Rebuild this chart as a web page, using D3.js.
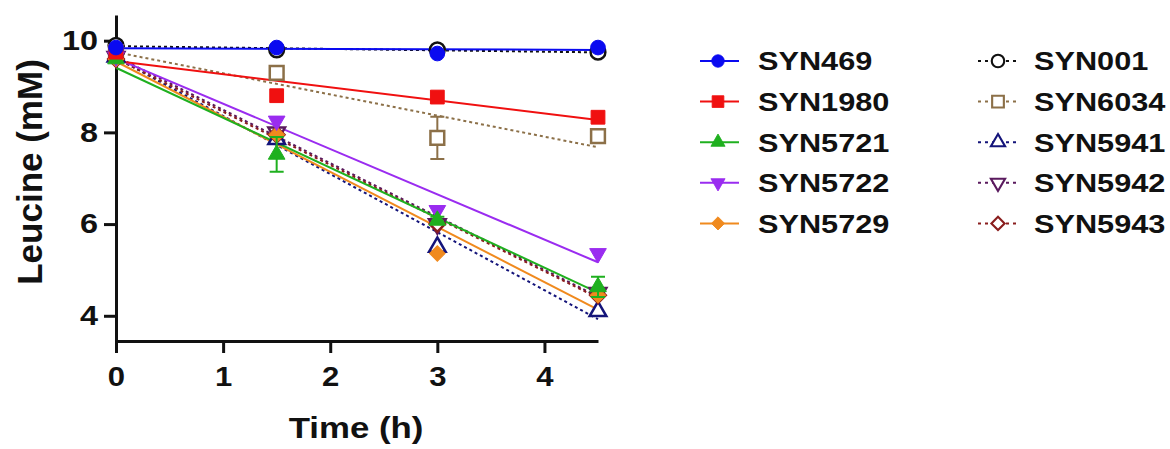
<!DOCTYPE html>
<html>
<head>
<meta charset="utf-8">
<script src="https://cdn.jsdelivr.net/npm/d3@7"></script>
<style>
body { margin: 0; background: #fff; }
text { font-family: "Liberation Sans", Arial, sans-serif; font-weight: bold; fill: #111; }
</style>
</head>
<body>
<svg id="chart" width="1170" height="449"></svg>
<script>
// sampling times (h)
var times = [0, 1.5, 3, 4.5];
var xTicks = [0, 1, 2, 3, 4];
var yTicks = [4, 6, 8, 10];

// leucine (mM)
var syn469  = [9.85, 9.85, 9.72, 9.85];
var syn1980 = [9.75, 8.80, 8.77, 8.33];
var syn5721 = [9.60, 7.52, 6.08, 4.63];
var syn5722 = [9.65, 8.25, 6.30, 5.36];
var syn5729 = [9.60, 7.95, 5.36, 4.45];
var syn001  = [9.90, 9.80, 9.80, 9.75];
var syn6034 = [9.75, 9.30, 7.88, 7.92];
var syn5941 = [9.65, 7.85, 5.50, 4.10];
var syn5942 = [9.65, 8.00, 6.00, 4.50];
var syn5943 = [9.60, 7.95, 6.00, 4.45];

// error bars (SEM) where visible
var err5721 = [0, 0.38, 0.08, 0.22];
var err6034 = [0, 0.15, 0.46, 0.10];
var errNone = [0, 0, 0, 0];

var series = [
    {name: 'SYN469',  values: syn469,  err: errNone, color: '#0a0af0', shape: 'circle',   open: false},
    {name: 'SYN1980', values: syn1980, err: errNone, color: '#f01010', shape: 'square',   open: false},
    {name: 'SYN5721', values: syn5721, err: err5721, color: '#1fb01f', shape: 'triangle', open: false},
    {name: 'SYN5722', values: syn5722, err: errNone, color: '#9a2cf0', shape: 'triDown',  open: false},
    {name: 'SYN5729', values: syn5729, err: errNone, color: '#f08a1e', shape: 'diamond',  open: false},
    {name: 'SYN001',  values: syn001,  err: errNone, color: '#111111', shape: 'circle',   open: true},
    {name: 'SYN6034', values: syn6034, err: err6034, color: '#8c7048', shape: 'square',   open: true},
    {name: 'SYN5941', values: syn5941, err: errNone, color: '#14147a', shape: 'triangle', open: true},
    {name: 'SYN5942', values: syn5942, err: errNone, color: '#5a1a5e', shape: 'triDown',  open: true},
    {name: 'SYN5943', values: syn5943, err: errNone, color: '#8a1e1e', shape: 'diamond',  open: true}
];

var svg = d3.select('#chart');

var x = d3.scaleLinear().domain([0, 4.5]).range([116, 598]);
var y = d3.scaleLinear().domain([3.45, 10.56]).range([341, 15]);

// widen glyphs a little, the source font is broader than Arial
function stretch(sel, k) {
    sel.each(function() {
        var w = this.getComputedTextLength();
        d3.select(this)
            .attr('textLength', w * k)
            .attr('lengthAdjust', 'spacingAndGlyphs');
    });
}

// least squares fit, as drawn by the original
function fit(vals) {
    var mx = d3.mean(times), my = d3.mean(vals);
    var sxy = d3.sum(times, (t, i) => (t - mx) * (vals[i] - my));
    var sxx = d3.sum(times, t => (t - mx) * (t - mx));
    var b = sxy / sxx;
    return {a: my - b * mx, b: b};
}

function markerPath(shape) {
    if (shape === 'circle') return d3.symbol(d3.symbolCircle, 170)();
    if (shape === 'square') return d3.symbol(d3.symbolSquare, 190)();
    if (shape === 'triangle' || shape === 'triDown') return d3.symbol(d3.symbolTriangle, 120)();
    return d3.symbol(d3.symbolSquare, 120)();
}
function markerRot(shape) {
    if (shape === 'triDown') return ' rotate(180)';
    if (shape === 'diamond') return ' rotate(45)';
    return '';
}
function drawMarker(g, s, cx, cy, scale) {
    g.append('path')
        .attr('d', markerPath(s.shape))
        .attr('transform', 'translate(' + cx + ',' + cy + ')' + markerRot(s.shape) + (scale ? ' scale(' + scale + ')' : ''))
        .attr('fill', s.open ? '#fff' : s.color)
        .attr('stroke', s.color)
        .attr('stroke-width', s.open ? 2.5 : 1);
}

// axes
var gx = svg.append('g')
    .attr('transform', 'translate(0,341)')
    .call(d3.axisBottom(x).tickValues(xTicks).tickSize(12).tickSizeOuter(0).tickPadding(14).tickFormat(d3.format('d')));
var gy = svg.append('g')
    .attr('transform', 'translate(116,0)')
    .call(d3.axisLeft(y).tickValues(yTicks).tickSize(12).tickSizeOuter(0).tickPadding(6));

[gx, gy].forEach(g => {
    g.select('.domain').attr('stroke', '#111').attr('stroke-width', 3);
    g.selectAll('.tick line').attr('stroke', '#111').attr('stroke-width', 3);
    g.selectAll('.tick text').style('font-size', '27px').attr('fill', '#111');
});
stretch(gx.selectAll('.tick text'), 1.15);
stretch(gy.selectAll('.tick text'), 1.2);

svg.append('text')
    .attr('x', 356).attr('y', 438)
    .attr('text-anchor', 'middle')
    .style('font-size', '30px')
    .text('Time (h)')
    .call(stretch, 1.16);

svg.append('text')
    .attr('transform', 'translate(42,172) rotate(-90)')
    .attr('text-anchor', 'middle')
    .style('font-size', '35px')
    .text('Leucine (mM)');

// fit lines
var plot = svg.append('g');
var line = d3.line().x(d => x(d[0])).y(d => y(d[1]));
var order = series.slice(5).concat(series.slice(0, 5).reverse());

order.forEach(s => {
    var f = fit(s.values);
    plot.append('path')
        .attr('d', line([[0, f.a], [4.5, f.a + f.b * 4.5]]))
        .attr('fill', 'none')
        .attr('stroke', s.color)
        .attr('stroke-width', 2)
        .attr('stroke-dasharray', s.open ? '3,3' : null);
});

// error bars then markers
order.forEach(s => {
    var g = plot.append('g');
    s.values.forEach((v, i) => {
        var e = s.err[i];
        if (!e) return;
        var cx = x(times[i]);
        g.append('path')
            .attr('d', 'M' + cx + ',' + y(v - e) + 'V' + y(v + e) +
                       'M' + (cx - 7) + ',' + y(v - e) + 'H' + (cx + 7) +
                       'M' + (cx - 7) + ',' + y(v + e) + 'H' + (cx + 7))
            .attr('fill', 'none')
            .attr('stroke', s.color)
            .attr('stroke-width', 2);
    });
    s.values.forEach((v, i) => drawMarker(g, s, x(times[i]), y(v)));
});

// legend
var legend = svg.append('g');
series.forEach((s, i) => {
    var col = s.open ? 1 : 0;
    var row = s.open ? i - 5 : i;
    var cy = 61 + row * 40.6;
    var lx = col ? 978 : 700;
    var mx = col ? 998 : 718;
    var tx = col ? 1034 : 758;
    var g = legend.append('g');
    g.append('line')
        .attr('x1', lx).attr('x2', lx + 39)
        .attr('y1', cy).attr('y2', cy)
        .attr('stroke', s.color)
        .attr('stroke-width', 2)
        .attr('stroke-dasharray', s.open ? '3,4' : null);
    drawMarker(g, s, mx, cy, 0.85);
    g.append('text')
        .attr('x', tx).attr('y', cy + 9.3)
        .style('font-size', '26px')
        .text(s.name)
        .call(stretch, 1.18);
});
</script>
</body>
</html>
